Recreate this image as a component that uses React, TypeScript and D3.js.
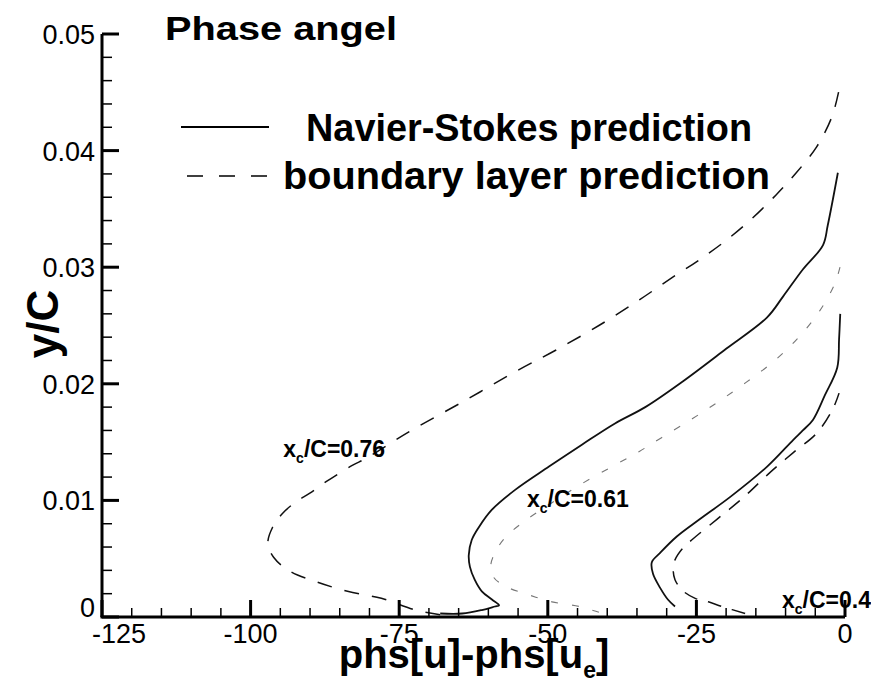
import React, { useEffect, useRef } from 'react';
import * as d3 from 'd3';

// phase (deg) vs y/C
const bl076Phase = [-68.1, -72.3, -78.0, -83.7, -88.8, -93.3, -96.1, -97.1, -96.3, -94.6, -92.3, -90.1, -87.3, -82.9, -80.6, -73.3, -63.8, -54.9, -48.6, -41.4, -34.6, -29.1, -24.6, -20.0, -15.6, -11.6, -8.2, -4.8, -2.2, -1.0];
const bl076Y = [0.0002, 0.0006, 0.0016, 0.0022, 0.0030, 0.0039, 0.0051, 0.0063, 0.0077, 0.0089, 0.0099, 0.0106, 0.0116, 0.0130, 0.0136, 0.0159, 0.0186, 0.0212, 0.0229, 0.0250, 0.0272, 0.0291, 0.0306, 0.0323, 0.0342, 0.0362, 0.0381, 0.0403, 0.0429, 0.0452];

const ns061Phase = [-68.1, -64.4, -61.1, -58.9, -58.2, -59.4, -61.1, -62.3, -63.1, -63.3, -62.8, -61.6, -59.4, -55.5, -49.8, -44.2, -38.7, -33.6, -27.3, -20.0, -13.1, -10.4, -7.1, -3.7, -2.9, -1.2];
const ns061Y = [0.0003, 0.0003, 0.0006, 0.0009, 0.0010, 0.0015, 0.0022, 0.0032, 0.0043, 0.0053, 0.0066, 0.0077, 0.0092, 0.0109, 0.0129, 0.0148, 0.0166, 0.0180, 0.0202, 0.0230, 0.0257, 0.0275, 0.0298, 0.0319, 0.0336, 0.0381];

const bl061Phase = [-41.4, -44.7, -49.3, -53.2, -57.0, -59.1, -59.6, -58.7, -57.0, -53.7, -49.3, -44.7, -39.2, -34.6, -30.8, -25.7, -21.2, -16.7, -11.6, -7.6, -4.2, -1.7, -0.8];
const bl061Y = [0.0004, 0.0009, 0.0013, 0.0019, 0.0026, 0.0034, 0.0044, 0.0057, 0.0069, 0.0083, 0.0098, 0.0113, 0.0129, 0.0142, 0.0154, 0.0170, 0.0185, 0.0201, 0.0221, 0.0241, 0.0263, 0.0286, 0.0301];

const ns04Phase = [-28.6, -29.8, -31.1, -32.3, -32.5, -31.1, -28.3, -24.4, -19.3, -13.1, -8.7, -7.1, -5.4, -3.4, -1.3, -1.0, -0.8];
const ns04Y = [0.0009, 0.0015, 0.0025, 0.0037, 0.0047, 0.0055, 0.0069, 0.0084, 0.0103, 0.0129, 0.0152, 0.0160, 0.0169, 0.0190, 0.0214, 0.0238, 0.0260];

const bl04Phase = [-16.8, -20.7, -23.0, -25.2, -27.4, -28.6, -28.9, -28.6, -27.3, -25.8, -21.5, -17.2, -12.6, -8.7, -4.7, -2.0, -1.0];
const bl04Y = [0.0003, 0.0009, 0.0013, 0.0016, 0.0023, 0.0032, 0.0040, 0.0049, 0.0059, 0.0066, 0.0084, 0.0102, 0.0124, 0.0141, 0.0158, 0.0179, 0.0192];

const xMajor = [-125, -100, -75, -50, -25, 0];
const yMajor = [0, 0.01, 0.02, 0.03, 0.04, 0.05];

const stations = [
  { text: '0.76', phase: -94.5, y: 0.0137 },
  { text: '0.61', phase: -53.5, y: 0.0094 },
  { text: '0.4', phase: -10.6, y: 0.0008 },
];

const W = 879;
const H = 687;
const FONT = '"Liberation Sans", Arial, Helvetica, sans-serif';

export default function App() {
  const svgRef = useRef<SVGSVGElement>(null);

  useEffect(() => {
    if (!svgRef.current) return;
    const svg = d3.select(svgRef.current);
    svg.selectAll('*').remove();

    const x = d3.scaleLinear().domain([-125, 0]).range([102, 845]);
    const y = d3.scaleLinear().domain([0, 0.05]).range([617, 34]);

    const line = d3.line<[number, number]>()
      .x(d => x(d[0]))
      .y(d => y(d[1]))
      .curve(d3.curveCatmullRom);

    const series = [
      { p: bl076Phase, v: bl076Y, dash: '15,13', w: 1.5, c: '#111' },
      { p: ns061Phase, v: ns061Y, dash: null, w: 1.8, c: '#111' },
      { p: bl061Phase, v: bl061Y, dash: '7,14', w: 1.1, c: '#777' },
      { p: ns04Phase, v: ns04Y, dash: null, w: 1.8, c: '#111' },
      { p: bl04Phase, v: bl04Y, dash: '14,11', w: 1.5, c: '#111' },
    ];

    series.forEach(s => {
      const pts = s.p.map((p, i) => [p, s.v[i]] as [number, number]);
      svg.append('path')
        .attr('d', line(pts))
        .attr('fill', 'none')
        .attr('stroke', s.c)
        .attr('stroke-width', s.w)
        .attr('stroke-dasharray', s.dash);
    });

    // axes, Tecplot style: ticks point into the plot
    const g = svg.append('g');
    g.append('line')
      .attr('x1', x(-125) - 1.5).attr('x2', x(0))
      .attr('y1', y(0)).attr('y2', y(0))
      .attr('stroke', '#000').attr('stroke-width', 3);
    g.append('line')
      .attr('x1', x(-125)).attr('x2', x(-125))
      .attr('y1', y(0)).attr('y2', y(0.05))
      .attr('stroke', '#000').attr('stroke-width', 3);

    const xMinor = d3.range(-125, 0.1, 5);
    g.selectAll('.xt')
      .data(xMinor)
      .enter()
      .append('line')
      .attr('x1', d => x(d)).attr('x2', d => x(d))
      .attr('y1', y(0))
      .attr('y2', d => y(0) - (d % 25 === 0 ? 17 : 9))
      .attr('stroke', '#000')
      .attr('stroke-width', d => (d % 25 === 0 ? 3 : 1.5));

    const yMinor = d3.range(0, 0.0501, 0.002);
    g.selectAll('.yt')
      .data(yMinor)
      .enter()
      .append('line')
      .attr('y1', d => y(d)).attr('y2', d => y(d))
      .attr('x1', x(-125))
      .attr('x2', (d, i) => x(-125) + (i % 5 === 0 ? 17 : 10))
      .attr('stroke', '#000')
      .attr('stroke-width', (d, i) => (i % 5 === 0 ? 3 : 1.5));

    g.selectAll('.xl')
      .data(xMajor)
      .enter()
      .append('text')
      .attr('x', d => (d === -125 ? x(d) + 17 : x(d)))
      .attr('y', 643)
      .attr('text-anchor', 'middle')
      .style('font-family', FONT)
      .style('font-size', '27px')
      .text(d => String(d));

    g.selectAll('.yl')
      .data(yMajor)
      .enter()
      .append('text')
      .attr('x', 95)
      .attr('y', d => (d === 0 ? y(d) : y(d) + 10))
      .attr('text-anchor', 'end')
      .style('font-family', FONT)
      .style('font-size', '27px')
      .text(d => (d === 0 ? '0' : d.toFixed(2)));

    // axis titles
    const xt = svg.append('text')
      .attr('x', 474)
      .attr('y', 668)
      .attr('text-anchor', 'middle')
      .style('font-family', FONT)
      .style('font-weight', 'bold')
      .style('font-size', '40px');
    xt.append('tspan').text('phs[u]-phs[u');
    xt.append('tspan').attr('dy', 10).style('font-size', '23px').text('e');
    xt.append('tspan').attr('dy', -10).text(']');

    svg.append('text')
      .attr('transform', 'translate(58,324) rotate(-90)')
      .attr('text-anchor', 'middle')
      .style('font-family', FONT)
      .style('font-weight', 'bold')
      .style('font-size', '44px')
      .text('y/C');

    svg.append('text')
      .attr('x', 165)
      .attr('y', 40)
      .attr('textLength', 232).attr('lengthAdjust', 'spacingAndGlyphs')
      .style('font-family', FONT)
      .style('font-weight', 'bold')
      .style('font-size', '34px')
      .text('Phase angel');

    // legend
    svg.append('line')
      .attr('x1', 181).attr('x2', 269).attr('y1', 127).attr('y2', 127)
      .attr('stroke', '#000').attr('stroke-width', 1.8);
    svg.append('line')
      .attr('x1', 187).attr('x2', 269).attr('y1', 176).attr('y2', 176)
      .attr('stroke', '#000').attr('stroke-width', 1.6)
      .attr('stroke-dasharray', '16,16');
    svg.append('text')
      .attr('x', 306).attr('y', 141)
      .attr('textLength', 446).attr('lengthAdjust', 'spacingAndGlyphs')
      .style('font-family', FONT).style('font-weight', 'bold').style('font-size', '38px')
      .text('Navier-Stokes prediction');
    svg.append('text')
      .attr('x', 283).attr('y', 189)
      .attr('textLength', 487).attr('lengthAdjust', 'spacingAndGlyphs')
      .style('font-family', FONT).style('font-weight', 'bold').style('font-size', '38px')
      .text('boundary layer prediction');

    // station labels
    stations.forEach(s => {
      const t = svg.append('text')
        .attr('x', x(s.phase))
        .attr('y', y(s.y))
        .style('font-family', FONT)
        .style('font-weight', 'bold')
        .style('font-size', '23px');
      t.append('tspan').text('x');
      t.append('tspan').attr('dy', 6).style('font-size', '14px').text('c');
      t.append('tspan').attr('dy', -6).text('/C=' + s.text);
    });
  }, []);

  return (
    <svg ref={svgRef} width={W} height={H} style={{ display: 'block', margin: '-8px', background: '#fff' }} />
  );
}
